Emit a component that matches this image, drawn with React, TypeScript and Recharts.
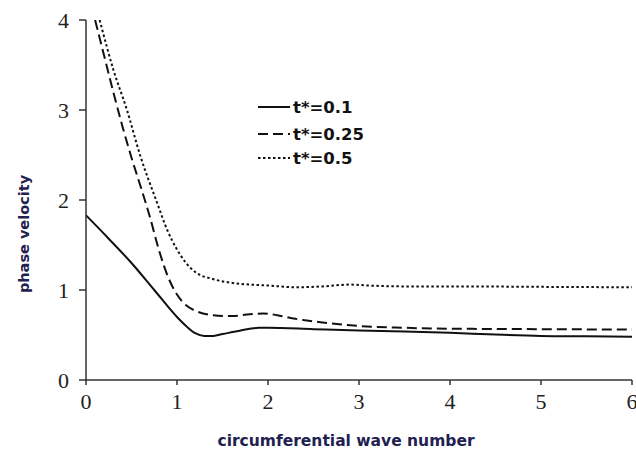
import React from "react";
import { LineChart, Line, XAxis, YAxis, Label } from "recharts";

const X_TICKS = [0, 1, 2, 3, 4, 5, 6];
const Y_TICKS = [0, 1, 2, 3, 4];

// t* = 0.1 (solid)
const t01X = [0, 0.25, 0.5, 0.75, 1.0, 1.1, 1.2, 1.3, 1.4, 1.5, 1.7, 1.9, 2.0, 2.5, 3, 3.5, 4, 4.5, 5, 5.5, 6];
const t01Y = [1.83, 1.57, 1.3, 1.0, 0.7, 0.6, 0.52, 0.49, 0.49, 0.51, 0.55, 0.58, 0.58, 0.565, 0.55, 0.54, 0.525, 0.505, 0.49, 0.485, 0.48];

// t* = 0.25 (dashed)
const t025X = [0.1, 0.2, 0.3, 0.4, 0.5, 0.6, 0.7, 0.8, 0.9, 1.0, 1.1, 1.2, 1.4, 1.6, 1.8, 1.95, 2.1, 2.3, 2.6, 3, 3.5, 4, 5, 6];
const t025Y = [4.0, 3.6, 3.2, 2.82, 2.47, 2.15, 1.82, 1.45, 1.15, 0.95, 0.83, 0.77, 0.72, 0.71, 0.73, 0.74, 0.72, 0.68, 0.64, 0.6, 0.58, 0.57, 0.565, 0.56];

// t* = 0.5 (dotted)
const t05X = [0.15, 0.3, 0.45, 0.6, 0.77, 0.9, 1.0, 1.1, 1.2, 1.4, 1.6, 1.8, 2.0, 2.3, 2.6, 2.9, 3.1, 3.5, 4, 5, 6];
const t05Y = [4.0, 3.45, 3.0, 2.48, 2.0, 1.65, 1.45, 1.3, 1.2, 1.12, 1.08, 1.06, 1.05, 1.03, 1.04, 1.06, 1.05, 1.04, 1.04, 1.035, 1.03];

const toPoints = (xs: number[], ys: number[]) => xs.map((x, i) => ({ x, y: ys[i] }));

const SERIES = [
  { name: "t*=0.1", data: toPoints(t01X, t01Y), dash: undefined as string | undefined },
  { name: "t*=0.25", data: toPoints(t025X, t025Y), dash: "10 5" },
  { name: "t*=0.5", data: toPoints(t05X, t05Y), dash: "2.5 2.5" },
];

const TITLE_COLOR = "#1f2150";
const TITLE_FONT = "DejaVu Sans, Verdana, sans-serif";
const TICK_FONT = "Liberation Serif, serif";

function XTick(props: any) {
  const { x, y, payload } = props;
  return (
    <text x={x} y={y + 12} textAnchor="middle" dominantBaseline="central" fontFamily={TICK_FONT} fontSize={22} fill="#222">
      {payload.value}
    </text>
  );
}

function YTick(props: any) {
  const { x, y, payload } = props;
  return (
    <text x={x} y={y} textAnchor="end" dominantBaseline="central" fontFamily={TICK_FONT} fontSize={22} fill="#222">
      {payload.value}
    </text>
  );
}

function LegendBox() {
  const rows = [13, 40, 64];
  return (
    <svg width={150} height={80} style={{ position: "absolute", left: 255, top: 94 }}>
      {SERIES.map((s, i) => (
        <g key={s.name}>
          <line x1={3} x2={35} y1={rows[i]} y2={rows[i]} stroke="#111" strokeWidth={2} strokeDasharray={s.dash} />
          <text x={38} y={rows[i]} dominantBaseline="central" fontFamily={TITLE_FONT} fontWeight="bold" fontSize={16.5} fill="#111">
            {s.name}
          </text>
        </g>
      ))}
    </svg>
  );
}

export default function App() {
  return (
    <div style={{ position: "absolute", left: 0, top: 0, width: 636, height: 454, background: "#fff" }}>
      <LineChart width={636} height={454} margin={{ top: 20, right: 4, left: 0, bottom: 0 }}>
        <XAxis
          type="number"
          dataKey="x"
          domain={[0, 6]}
          ticks={X_TICKS}
          height={74}
          stroke="#333"
          strokeWidth={1.5}
          tickSize={5}
          tickMargin={4}
          tick={XTick}
        >
          <Label
            content={() => (
              <text x={346} y={441} textAnchor="middle" dominantBaseline="central" fontFamily={TITLE_FONT} fontWeight="bold" fontSize={15.5} fill={TITLE_COLOR}>
                circumferential wave number
              </text>
            )}
          />
        </XAxis>
        <YAxis
          type="number"
          domain={[0, 4]}
          ticks={Y_TICKS}
          allowDataOverflow
          width={86}
          stroke="#333"
          strokeWidth={1.5}
          tickSize={7}
          tickMargin={10}
          tick={YTick}
        >
          <Label
            content={() => (
              <text x={24} y={234} transform="rotate(-90 24 234)" textAnchor="middle" dominantBaseline="central" fontFamily={TITLE_FONT} fontWeight="bold" fontSize={14.5} fill={TITLE_COLOR}>
                phase velocity
              </text>
            )}
          />
        </YAxis>
        {SERIES.map((s) => (
          <Line
            key={s.name}
            name={s.name}
            data={s.data}
            dataKey="y"
            type="monotone"
            stroke="#111"
            strokeWidth={2}
            strokeDasharray={s.dash}
            dot={false}
            isAnimationActive={false}
          />
        ))}
      </LineChart>
      <LegendBox />
    </div>
  );
}
